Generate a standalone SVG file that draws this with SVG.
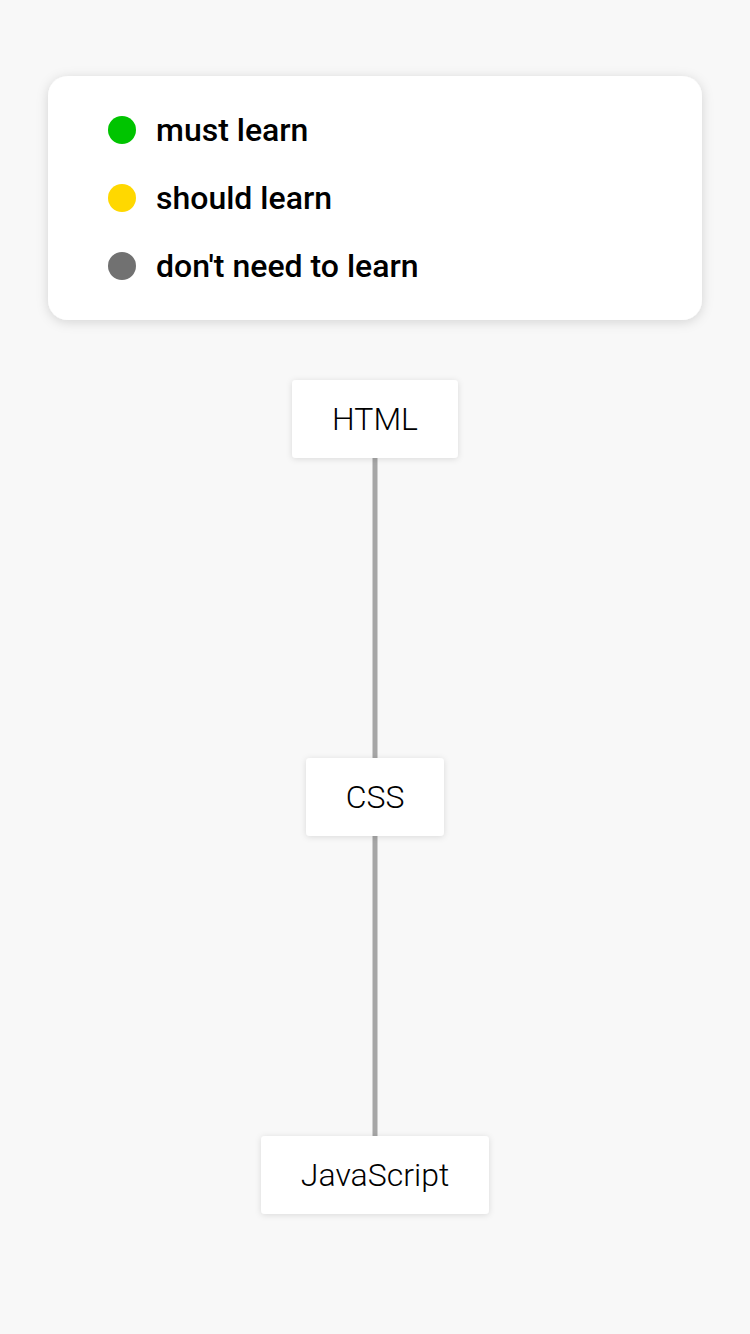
<svg xmlns="http://www.w3.org/2000/svg" width="750" height="1334" viewBox="0 0 750 1334">
<defs>
<filter id="sh" x="-20%" y="-30%" width="140%" height="160%">
<feDropShadow dx="0" dy="2" stdDeviation="6" flood-color="#000" flood-opacity="0.15"/>
</filter>
<filter id="shs" x="-20%" y="-30%" width="140%" height="160%">
<feDropShadow dx="0" dy="1" stdDeviation="3" flood-color="#000" flood-opacity="0.12"/>
</filter>
</defs>
<style>
.leg{font-family:Roboto,"Liberation Sans",sans-serif;font-size:32px;font-weight:500;fill:#000}
.node rect{fill:#fff;filter:url(#shs)}
.node text{font-family:Roboto,"Liberation Sans",sans-serif;font-size:32px;font-weight:300;fill:#000;text-anchor:middle}
.edge{stroke:#a6a6a6;stroke-width:5;fill:none}
</style>
<rect width="750" height="1334" fill="#f8f8f8"/>
<g id="legend">
<rect x="48" y="76" width="654" height="244" rx="20" fill="#fff" filter="url(#sh)"/>
<circle cx="122" cy="130" r="14" fill="#00c400"/>
<text class="leg" x="156" y="141">must learn</text>
<circle cx="122" cy="198" r="14" fill="#ffd800"/>
<text class="leg" x="156" y="209">should learn</text>
<circle cx="122" cy="266" r="14" fill="#717171"/>
<text class="leg" x="156" y="277">don't need to learn</text>
</g>
<g id="connectors">
<line class="edge" x1="375" y1="458" x2="375" y2="758"/>
<line class="edge" x1="375" y1="836" x2="375" y2="1136"/>
</g>
<g id="node-html" class="node">
<rect x="292" y="380" width="166" height="78" rx="4"/>
<text x="375" y="430">HTML</text>
</g>
<g id="node-css" class="node">
<rect x="306" y="758" width="138" height="78" rx="4"/>
<text x="375" y="808">CSS</text>
</g>
<g id="node-js" class="node">
<rect x="261" y="1136" width="228" height="78" rx="4"/>
<text x="375" y="1186">JavaScript</text>
</g>
</svg>
